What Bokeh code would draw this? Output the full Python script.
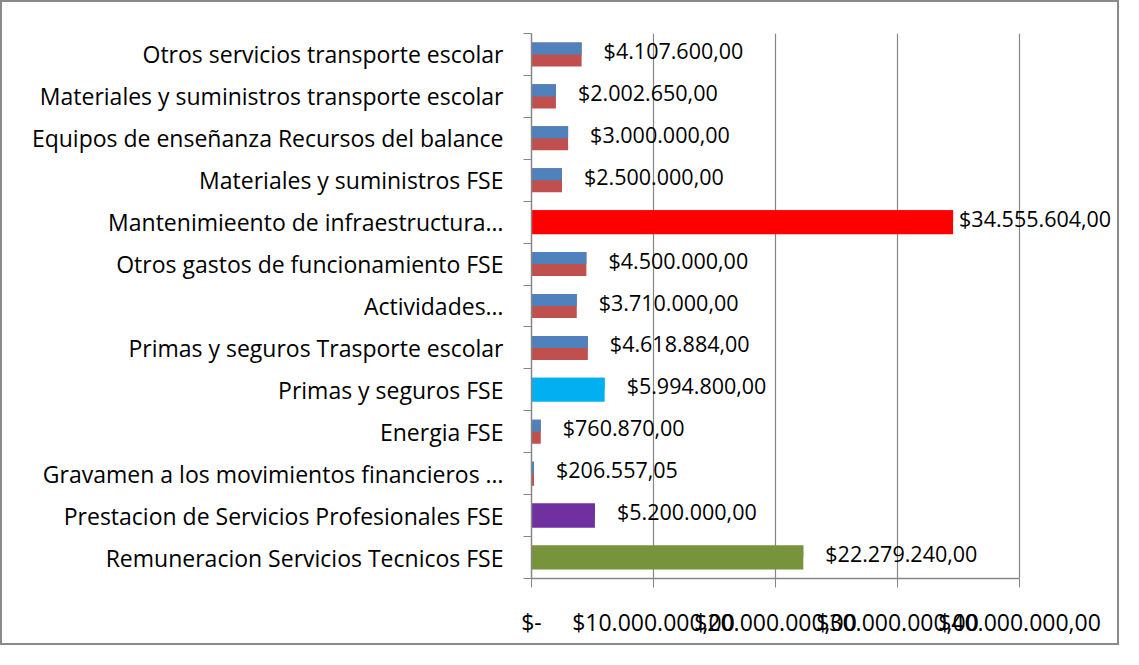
from bokeh.plotting import figure
from bokeh.models import ColumnDataSource, FixedTicker, LabelSet, Range1d
from bokeh.core.properties import value
from bokeh.embed import file_html
from bokeh.resources import INLINE

# ---- data (top to bottom as shown) ----
categories = [
    "Otros servicios transporte escolar",
    "Materiales y suministros transporte escolar",
    "Equipos de enseñanza Recursos del balance",
    "Materiales y suministros FSE",
    "Mantenimieento de infraestructura…",
    "Otros gastos de funcionamiento FSE",
    "Actividades…",
    "Primas y seguros Trasporte escolar",
    "Primas y seguros FSE",
    "Energia FSE",
    "Gravamen a los movimientos financieros …",
    "Prestacion de Servicios Profesionales FSE",
    "Remuneracion Servicios Tecnicos FSE",
]
values = [4107600, 2002650, 3000000, 2500000, 34555604, 4500000, 3710000,
          4618884, 5994800, 760870, 206557.05, 5200000, 22279240]
value_labels = ["$4.107.600,00", "$2.002.650,00", "$3.000.000,00", "$2.500.000,00",
                "$34.555.604,00", "$4.500.000,00", "$3.710.000,00", "$4.618.884,00",
                "$5.994.800,00", "$760.870,00", "$206.557,05", "$5.200.000,00",
                "$22.279.240,00"]
x_ticks = [0, 10000000, 20000000, 30000000, 40000000]
x_tick_labels = ["$-", "$10.000.000,00", "$20.000.000,00", "$30.000.000,00", "$40.000.000,00"]

# ---- styling ----
BLUE, RED = "#4F81BD", "#C0504D"
special = {4: "#FF0000", 8: "#00B0F0", 11: "#7030A0", 12: "#77933C"}
top_col = [special.get(i, BLUE) for i in range(len(categories))]
bot_col = [special.get(i, RED) for i in range(len(categories))]

n = len(categories)
centers = [n - i - 0.5 for i in range(n)]
bar_h = 0.573
lbl_dx = [6 if v > 30000000 else 22 for v in values]

src = ColumnDataSource(dict(
    y=centers,
    y_top=[c + bar_h / 4 for c in centers],
    v=values,
    top=top_col,
    bot=bot_col,
    lbl=value_labels,
    dx=lbl_dx,
))

FONT = "Open Sans"
GRAY = "#868686"

W, H = 1119, 645
B_LEFT, B_TOP, B_BOTTOM, B_RIGHT = 529, 31, 69, 0
PX_PER_40M = 488
frame_w = W - B_LEFT - B_RIGHT
x_end = 40000000 * frame_w / PX_PER_40M

p = figure(width=W, height=H, output_backend="svg", toolbar_location=None,
           x_range=Range1d(0, x_end), y_range=Range1d(0, n),
           min_border_left=B_LEFT, min_border_right=B_RIGHT,
           min_border_top=B_TOP, min_border_bottom=B_BOTTOM)
p.styles = {"border": "2px solid #8a8a8a"}
p.outline_line_color = None
p.background_fill_color = "white"
p.border_fill_color = "white"

p.hbar(y="y", left=0, right="v", height=bar_h, fill_color="bot", line_color=None, source=src)
p.hbar(y="y_top", left=0, right="v", height=bar_h / 2, fill_color="top", line_color=None, source=src)

labels = LabelSet(x="v", y="y", text="lbl", source=src, x_offset="dx", y_offset=4,
                  text_baseline="middle", text_align="left",
                  text_font=value(FONT), text_font_size="21.5px", text_color="black")
p.add_layout(labels)

# x axis
p.xaxis.bounds = (0, 40000000)
p.xaxis.ticker = FixedTicker(ticks=x_ticks, minor_ticks=[])
p.xaxis.major_label_overrides = {t: l for t, l in zip(x_ticks, x_tick_labels)}
p.xaxis.axis_line_color = GRAY
p.xaxis.axis_line_width = 1.5
p.xaxis.major_tick_line_color = GRAY
p.xaxis.major_tick_out = 9
p.xaxis.major_tick_in = 0
p.xaxis.major_label_standoff = 18
p.xaxis.major_label_text_font = FONT
p.xaxis.major_label_text_font_size = "23px"
p.xaxis.major_label_text_color = "black"

# y axis
p.yaxis.ticker = FixedTicker(ticks=centers, minor_ticks=list(range(n + 1)))
p.yaxis.major_label_overrides = {c: name for c, name in zip(centers, categories)}
p.yaxis.axis_line_color = GRAY
p.yaxis.axis_line_width = 1.5
p.yaxis.major_tick_line_color = None
p.yaxis.major_tick_out = 0
p.yaxis.major_tick_in = 0
p.yaxis.minor_tick_line_color = GRAY
p.yaxis.minor_tick_out = 8
p.yaxis.minor_tick_in = 0
p.yaxis.major_label_standoff = 20
p.yaxis.major_label_text_font = FONT
p.yaxis.major_label_text_font_size = "23px"
p.yaxis.major_label_text_color = "black"

# grid
p.xgrid.ticker = FixedTicker(ticks=x_ticks[1:])
p.xgrid.bounds = (0, 40000000)
p.xgrid.grid_line_color = GRAY
p.xgrid.grid_line_width = 1.2
p.ygrid.grid_line_color = None

open("out.html", "w").write(file_html(p, INLINE))
